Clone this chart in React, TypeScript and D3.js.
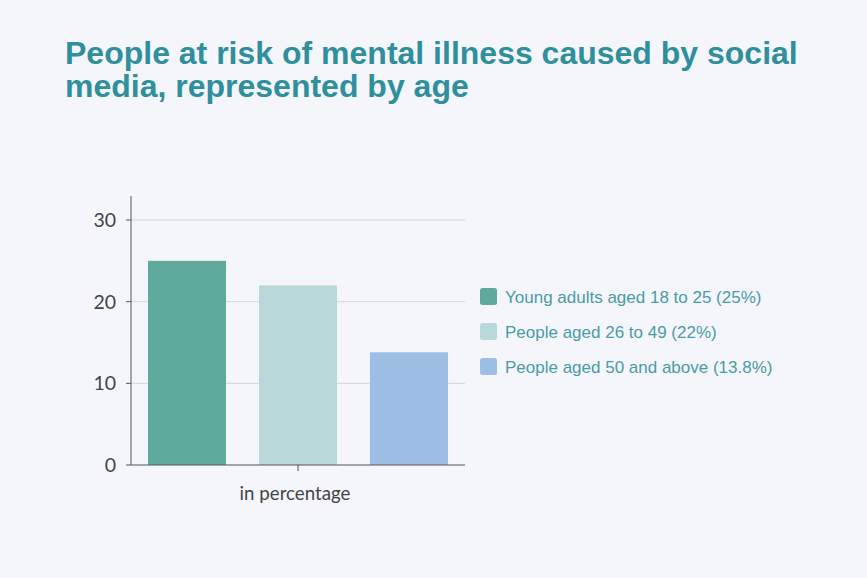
import React from "react";
import * as d3 from "d3";

const categories = ["Young adults aged 18 to 25 (25%)", "People aged 26 to 49 (22%)", "People aged 50 and above (13.8%)"];
const values = [25, 22, 13.8];
const colors = ["#5eab9d", "#b7d9da", "#9dbfe6"];
const yTicks = [0, 10, 20, 30];
const xLabel = "in percentage";
const titleLines = ["People at risk of mental illness caused by social", "media, represented by age"];

const W = 867;
const H = 578;
const plot = { left: 131, right: 465, top: 196, bottom: 465 };

export default function App() {
  const y = d3.scaleLinear().domain([0, 30]).range([plot.bottom, plot.bottom - 245]);
  const x = d3
    .scaleBand<string>()
    .domain(categories)
    .range([plot.left + 0.5, plot.right - 0.5])
    .paddingInner(0.297)
    .paddingOuter(0.1485);
  const tickX = (x(categories[1]) as number) + x.bandwidth() / 2;

  return (
    <div style={{ position: "fixed", left: 0, top: 0, width: W, height: H }}>
      <svg width={W} height={H} style={{ display: "block" }}>
        <rect x={0} y={0} width={W} height={H} fill="#f5f6fc" />
        {titleLines.map((t, i) => (
          <text
            key={i}
            x={65}
            y={64 + i * 33}
            fontFamily="'Liberation Sans', Arial, sans-serif"
            fontWeight="bold"
            fontSize={32}
            fill="#2f8f9c"
          >
            {t}
          </text>
        ))}
        {yTicks.map((t) => (
          <g key={t}>
            {t > 0 && (
              <line x1={plot.left} x2={plot.right} y1={y(t)} y2={y(t)} stroke="#d3d5de" strokeWidth={1} />
            )}
            <line x1={plot.left - 5} x2={plot.left} y1={y(t)} y2={y(t)} stroke="#555" strokeWidth={1} />
            <text
              x={plot.left - 15}
              y={y(t)}
              dy="0.36em"
              textAnchor="end"
              fontFamily="Lato, sans-serif"
              fontSize={19.5}
              fill="#444"
            >
              {t}
            </text>
          </g>
        ))}
        {categories.map((c, i) => (
          <rect
            key={c}
            x={x(c)}
            y={y(values[i])}
            width={x.bandwidth()}
            height={y(0) - y(values[i])}
            fill={colors[i]}
          />
        ))}
        <line x1={plot.left} x2={plot.left} y1={plot.top} y2={plot.bottom} stroke="#555" strokeWidth={1} />
        <line x1={plot.left} x2={plot.right} y1={plot.bottom} y2={plot.bottom} stroke="#555" strokeWidth={1} />
        <line x1={tickX} x2={tickX} y1={plot.bottom} y2={plot.bottom + 6} stroke="#555" strokeWidth={1} />
        <text
          x={tickX - 3}
          y={500}
          textAnchor="middle"
          fontFamily="Lato, sans-serif"
          fontSize={18.7}
          fill="#444"
        >
          {xLabel}
        </text>
        {categories.map((c, i) => (
          <g key={c} transform={`translate(480, ${296.5 + i * 35})`}>
            <rect x={0} y={-8.5} width={17} height={17} rx={2.5} fill={colors[i]} />
            <text
              x={25}
              y={0}
              dy="0.36em"
              fontFamily="'Liberation Sans', Arial, sans-serif"
              fontSize={17}
              fill="#4a9ba6"
            >
              {c}
            </text>
          </g>
        ))}
      </svg>
    </div>
  );
}
